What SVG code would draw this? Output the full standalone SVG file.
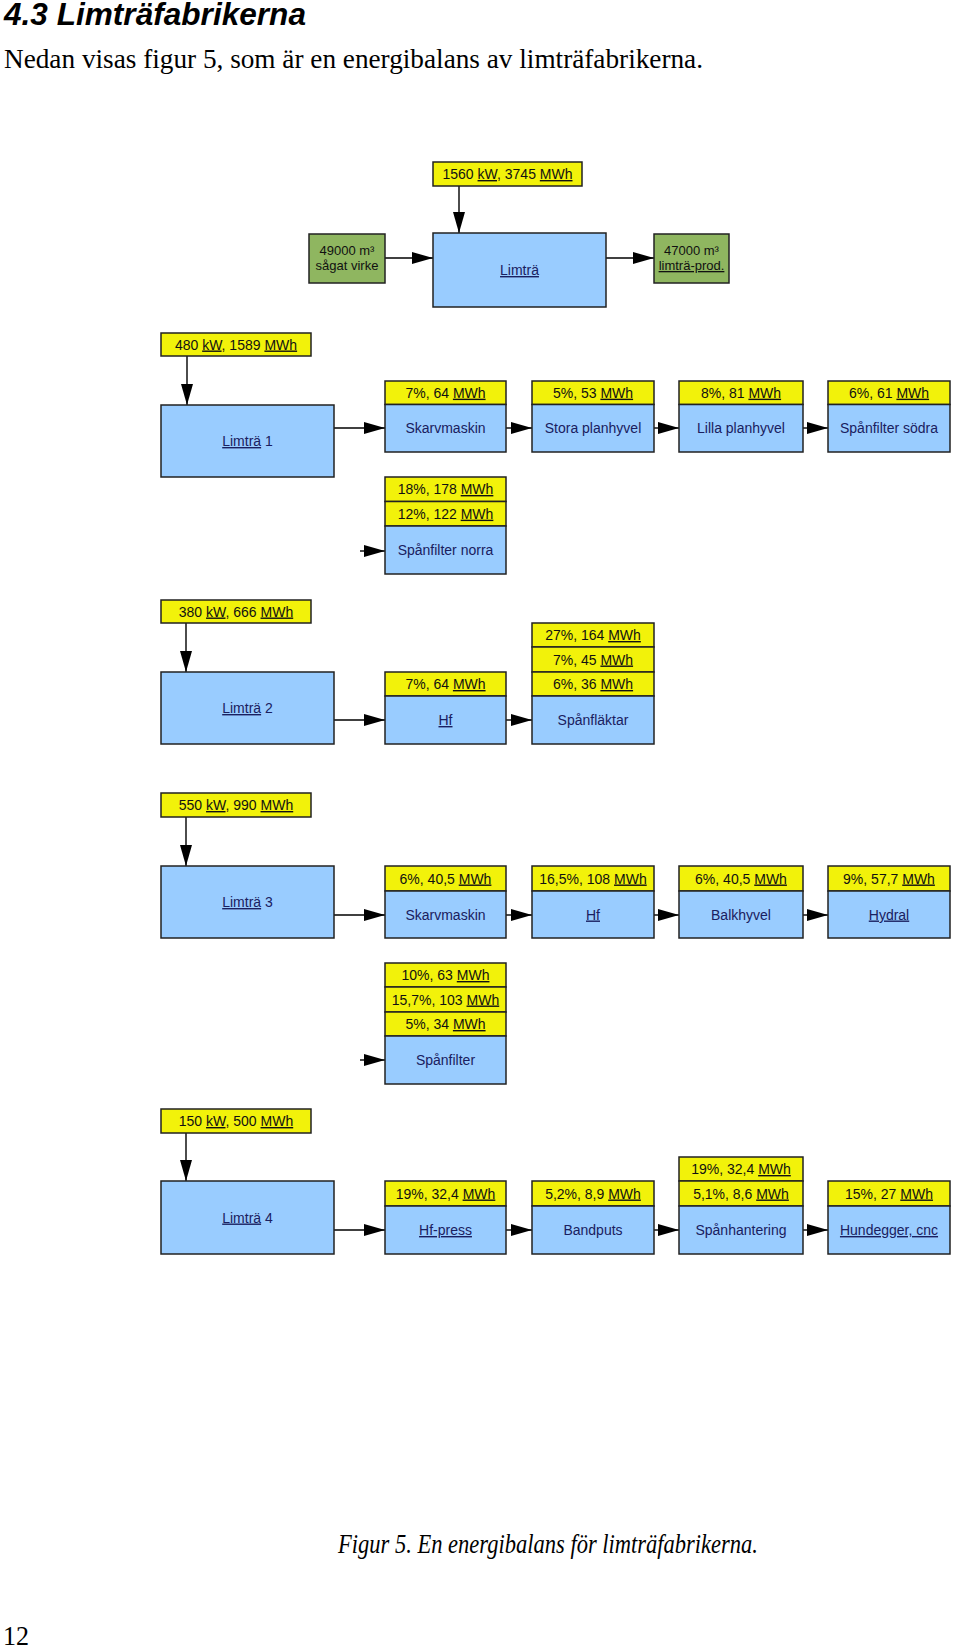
<svg xmlns="http://www.w3.org/2000/svg" width="960" height="1652" viewBox="0 0 960 1652">
<style>
.y{fill:#f2f20a;stroke:#222;stroke-width:1.5}
.b{fill:#99ccff;stroke:#222;stroke-width:1.5}
.g{fill:#8fb660;stroke:#222;stroke-width:1.5}
.t{font-family:"Liberation Sans",Arial,sans-serif;font-size:14px;text-anchor:middle;fill:#111}
.tb{fill:#1a2060}
.tg{font-size:13px}
.u{text-decoration:underline}
.c{stroke:#000;stroke-width:1.4;fill:none;marker-end:url(#ah)}
.serif{font-family:"Liberation Serif","Times New Roman",serif;fill:#000}
</style>
<defs>
<marker id="ah" markerWidth="21" markerHeight="12" refX="21" refY="6" orient="auto" markerUnits="userSpaceOnUse"><path d="M0,0 L21,6 L0,12 z" fill="#000"/></marker>
</defs>
<rect width="960" height="1652" fill="#fff"/>
<text x="4" y="25" font-family="Liberation Sans,Arial,sans-serif" font-weight="bold" font-style="italic" font-size="31" textLength="302" lengthAdjust="spacingAndGlyphs" fill="#000">4.3 Limträfabrikerna</text>
<text class="serif" x="4" y="68" font-size="27" textLength="699" lengthAdjust="spacingAndGlyphs">Nedan visas figur 5, som är en energibalans av limträfabrikerna.</text>

<g id="connectors">
<path class="c" d="M459,186 V233"/>
<path class="c" d="M385,258 H433"/>
<path class="c" d="M606,258 H654"/>
<path class="c" d="M187,356 V405"/>
<path class="c" d="M334,428 H385"/>
<path class="c" d="M506,428 H532"/>
<path class="c" d="M654,428 H679"/>
<path class="c" d="M803,428 H828"/>
<path class="c" d="M360,551 H385"/>
<path class="c" d="M186,623 V672"/>
<path class="c" d="M334,720 H385"/>
<path class="c" d="M506,720 H532"/>
<path class="c" d="M186,817 V866"/>
<path class="c" d="M334,915 H385"/>
<path class="c" d="M506,915 H532"/>
<path class="c" d="M654,915 H679"/>
<path class="c" d="M803,915 H828"/>
<path class="c" d="M360,1060 H385"/>
<path class="c" d="M186,1133 V1181"/>
<path class="c" d="M334,1230 H385"/>
<path class="c" d="M506,1230 H532"/>
<path class="c" d="M654,1230 H679"/>
<path class="c" d="M803,1230 H828"/>
</g>

<g id="top-power"><rect class="y" x="433" y="162" width="149" height="24"/><text class="t" x="507.5" y="179">1560 <tspan class="u">kW</tspan>, 3745 <tspan class="u">MWh</tspan></text></g>
<g id="top-limtra"><rect class="b" x="433" y="233" width="173" height="74"/><text class="t tb" x="519.5" y="275"><tspan class="u">Limträ</tspan></text></g>
<g id="top-in"><rect class="g" x="309" y="234" width="76" height="49"/><text class="t tg" x="347" y="255">49000 m³</text><text class="t tg" x="347" y="270">sågat virke</text></g>
<g id="top-out"><rect class="g" x="654" y="234" width="75" height="49"/><text class="t tg" x="691.5" y="255">47000 m³</text><text class="t tg" x="691.5" y="270"><tspan class="u">limträ-prod.</tspan></text></g>

<!-- Row 1 -->
<g id="l1-power"><rect class="y" x="161" y="333" width="150" height="23"/><text class="t" x="236" y="349.5">480 <tspan class="u">kW</tspan>, 1589 <tspan class="u">MWh</tspan></text></g>
<g id="l1"><rect class="b" x="161" y="405" width="173" height="72"/><text class="t tb" x="247.5" y="446"><tspan class="u">Limträ</tspan> 1</text></g>
<g id="l1-skarv"><rect class="y" x="385" y="381" width="121" height="23.5"/><text class="t" x="445.5" y="397.7">7%, 64 <tspan class="u">MWh</tspan></text><rect class="b" x="385" y="404.5" width="121" height="47.5"/><text class="t tb" x="445.5" y="433">Skarvmaskin</text></g>
<g id="l1-stora"><rect class="y" x="532" y="381" width="122" height="23.5"/><text class="t" x="593" y="397.7">5%, 53 <tspan class="u">MWh</tspan></text><rect class="b" x="532" y="404.5" width="122" height="47.5"/><text class="t tb" x="593" y="433">Stora planhyvel</text></g>
<g id="l1-lilla"><rect class="y" x="679" y="381" width="124" height="23.5"/><text class="t" x="741" y="397.7">8%, 81 <tspan class="u">MWh</tspan></text><rect class="b" x="679" y="404.5" width="124" height="47.5"/><text class="t tb" x="741" y="433">Lilla planhyvel</text></g>
<g id="l1-sodra"><rect class="y" x="828" y="381" width="122" height="23.5"/><text class="t" x="889" y="397.7">6%, 61 <tspan class="u">MWh</tspan></text><rect class="b" x="828" y="404.5" width="122" height="47.5"/><text class="t tb" x="889" y="433">Spånfilter södra</text></g>
<g id="l1-norra"><rect class="y" x="385" y="477" width="121" height="24.5"/><text class="t" x="445.5" y="494">18%, 178 <tspan class="u">MWh</tspan></text><rect class="y" x="385" y="501.5" width="121" height="24.5"/><text class="t" x="445.5" y="518.7">12%, 122 <tspan class="u">MWh</tspan></text><rect class="b" x="385" y="526" width="121" height="48"/><text class="t tb" x="445.5" y="555">Spånfilter norra</text></g>

<!-- Row 2 -->
<g id="l2-power"><rect class="y" x="161" y="600" width="150" height="23"/><text class="t" x="236" y="616.5">380 <tspan class="u">kW</tspan>, 666 <tspan class="u">MWh</tspan></text></g>
<g id="l2"><rect class="b" x="161" y="672" width="173" height="72"/><text class="t tb" x="247.5" y="713"><tspan class="u">Limträ</tspan> 2</text></g>
<g id="l2-hf"><rect class="y" x="385" y="672" width="121" height="24"/><text class="t" x="445.5" y="689">7%, 64 <tspan class="u">MWh</tspan></text><rect class="b" x="385" y="696" width="121" height="48"/><text class="t tb" x="445.5" y="725"><tspan class="u">Hf</tspan></text></g>
<g id="l2-flakt"><rect class="y" x="532" y="623" width="122" height="24"/><text class="t" x="593" y="640">27%, 164 <tspan class="u">MWh</tspan></text><rect class="y" x="532" y="647" width="122" height="25"/><text class="t" x="593" y="664.5">7%, 45 <tspan class="u">MWh</tspan></text><rect class="y" x="532" y="672" width="122" height="24"/><text class="t" x="593" y="689">6%, 36 <tspan class="u">MWh</tspan></text><rect class="b" x="532" y="696" width="122" height="48"/><text class="t tb" x="593" y="725">Spånfläktar</text></g>

<!-- Row 3 -->
<g id="l3-power"><rect class="y" x="161" y="793" width="150" height="24"/><text class="t" x="236" y="810">550 <tspan class="u">kW</tspan>, 990 <tspan class="u">MWh</tspan></text></g>
<g id="l3"><rect class="b" x="161" y="866" width="173" height="72"/><text class="t tb" x="247.5" y="907"><tspan class="u">Limträ</tspan> 3</text></g>
<g id="l3-skarv"><rect class="y" x="385" y="866" width="121" height="25"/><text class="t" x="445.5" y="883.5">6%, 40,5 <tspan class="u">MWh</tspan></text><rect class="b" x="385" y="891" width="121" height="47"/><text class="t tb" x="445.5" y="919.5">Skarvmaskin</text></g>
<g id="l3-hf"><rect class="y" x="532" y="866" width="122" height="25"/><text class="t" x="593" y="883.5">16,5%, 108 <tspan class="u">MWh</tspan></text><rect class="b" x="532" y="891" width="122" height="47"/><text class="t tb" x="593" y="919.5"><tspan class="u">Hf</tspan></text></g>
<g id="l3-balk"><rect class="y" x="679" y="866" width="124" height="25"/><text class="t" x="741" y="883.5">6%, 40,5 <tspan class="u">MWh</tspan></text><rect class="b" x="679" y="891" width="124" height="47"/><text class="t tb" x="741" y="919.5">Balkhyvel</text></g>
<g id="l3-hydral"><rect class="y" x="828" y="866" width="122" height="25"/><text class="t" x="889" y="883.5">9%, 57,7 <tspan class="u">MWh</tspan></text><rect class="b" x="828" y="891" width="122" height="47"/><text class="t tb" x="889" y="919.5"><tspan class="u">Hydral</tspan></text></g>
<g id="l3-filter"><rect class="y" x="385" y="963" width="121" height="24"/><text class="t" x="445.5" y="980">10%, 63 <tspan class="u">MWh</tspan></text><rect class="y" x="385" y="987" width="121" height="25"/><text class="t" x="445.5" y="1004.5">15,7%, 103 <tspan class="u">MWh</tspan></text><rect class="y" x="385" y="1012" width="121" height="24"/><text class="t" x="445.5" y="1029">5%, 34 <tspan class="u">MWh</tspan></text><rect class="b" x="385" y="1036" width="121" height="48"/><text class="t tb" x="445.5" y="1065">Spånfilter</text></g>

<!-- Row 4 -->
<g id="l4-power"><rect class="y" x="161" y="1109" width="150" height="24"/><text class="t" x="236" y="1126">150 <tspan class="u">kW</tspan>, 500 <tspan class="u">MWh</tspan></text></g>
<g id="l4"><rect class="b" x="161" y="1181" width="173" height="73"/><text class="t tb" x="247.5" y="1222.5"><tspan class="u">Limträ</tspan> 4</text></g>
<g id="l4-press"><rect class="y" x="385" y="1181" width="121" height="25"/><text class="t" x="445.5" y="1198.5">19%, 32,4 <tspan class="u">MWh</tspan></text><rect class="b" x="385" y="1206" width="121" height="48"/><text class="t tb" x="445.5" y="1235"><tspan class="u">Hf-press</tspan></text></g>
<g id="l4-band"><rect class="y" x="532" y="1181" width="122" height="25"/><text class="t" x="593" y="1198.5">5,2%, 8,9 <tspan class="u">MWh</tspan></text><rect class="b" x="532" y="1206" width="122" height="48"/><text class="t tb" x="593" y="1235">Bandputs</text></g>
<g id="l4-span"><rect class="y" x="679" y="1157" width="124" height="24"/><text class="t" x="741" y="1174">19%, 32,4 <tspan class="u">MWh</tspan></text><rect class="y" x="679" y="1181" width="124" height="25"/><text class="t" x="741" y="1198.5">5,1%, 8,6 <tspan class="u">MWh</tspan></text><rect class="b" x="679" y="1206" width="124" height="48"/><text class="t tb" x="741" y="1235">Spånhantering</text></g>
<g id="l4-hund"><rect class="y" x="828" y="1181" width="122" height="25"/><text class="t" x="889" y="1198.5">15%, 27 <tspan class="u">MWh</tspan></text><rect class="b" x="828" y="1206" width="122" height="48"/><text class="t tb" x="889" y="1235"><tspan class="u">Hundegger, cnc</tspan></text></g>

<text class="serif" x="338" y="1553" font-size="27" font-style="italic" textLength="420" lengthAdjust="spacingAndGlyphs">Figur 5. En energibalans för limträfabrikerna.</text>
<text class="serif" x="3" y="1645" font-size="27" textLength="26" lengthAdjust="spacingAndGlyphs">12</text>
</svg>
